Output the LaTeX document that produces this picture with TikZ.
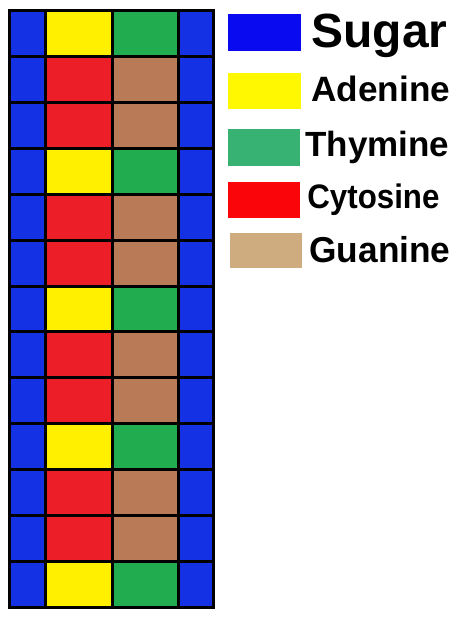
\documentclass[tikz,border=0pt]{standalone}
\usepackage{fontspec}
\setmainfont{Liberation Sans}
\definecolor{sugarC}{RGB}{20,50,228}
\definecolor{adenineC}{RGB}{255,240,0}
\definecolor{thymineC}{RGB}{34,172,80}
\definecolor{cytosineC}{RGB}{236,30,40}
\definecolor{guanineC}{RGB}{185,122,87}
\definecolor{legSugar}{RGB}{10,10,240}
\definecolor{legAdenine}{RGB}{255,248,0}
\definecolor{legThymine}{RGB}{55,178,115}
\definecolor{legCytosine}{RGB}{250,5,10}
\definecolor{legGuanine}{RGB}{207,172,128}
\tikzset{
  gridline/.style={line width=1.5pt, black},
  legtext/.style={anchor=base west, inner sep=0pt, font=\bfseries},
}
\begin{document}
\begin{tikzpicture}[x=0.5pt,y=-0.5pt]
\useasboundingbox (0,0) rectangle (455,620);
\foreach \r in {0,...,12}{
  \pgfmathsetmacro{\ya}{11+\r*45.846}
  \pgfmathsetmacro{\yb}{11+(\r+1)*45.846}
  \pgfmathtruncatemacro{\m}{mod(\r,3)}
  \ifnum\m=0 \def\ca{adenineC}\def\cb{thymineC}\else \def\ca{cytosineC}\def\cb{guanineC}\fi
  \fill[sugarC] (9,\ya) rectangle (45,\yb);
  \fill[\ca] (45,\ya) rectangle (112,\yb);
  \fill[\cb] (112,\ya) rectangle (178,\yb);
  \fill[sugarC] (178,\ya) rectangle (213,\yb);
}
\foreach \r in {1,...,12}{
  \pgfmathsetmacro{\ya}{11+\r*45.846}
  \draw[gridline] (9,\ya) -- (213,\ya);
}
\foreach \x in {45,112,178}{
  \draw[gridline] (\x,11) -- (\x,607);
}
\draw[gridline] (9,11) rectangle (213,607);
% legend
\fill[legSugar] (228,14) rectangle (301,51);
\fill[legAdenine] (228,73) rectangle (301,109);
\fill[legThymine] (228,129) rectangle (300,166);
\fill[legCytosine] (228,182) rectangle (300,218);
\fill[legGuanine] (230,233) rectangle (302,268);
\node[legtext, font=\bfseries\fontsize{24pt}{24pt}\selectfont] (sugar) at (311,48) {Sugar};
\node[legtext, font=\bfseries\fontsize{17.6pt}{17.6pt}\selectfont] (adenine) at (311,102) {Adenine};
\node[legtext, font=\bfseries\fontsize{17.5pt}{17.5pt}\selectfont] (thymine) at (305,157) {Thymine};
\node[legtext, font=\bfseries\fontsize{17pt}{17pt}\selectfont, xscale=0.92] (cytosine) at (307,208) {Cytosine};
\node[legtext, font=\bfseries\fontsize{18pt}{18pt}\selectfont, xscale=0.98] (guanine) at (309,262) {Guanine};
\end{tikzpicture}
\end{document}
